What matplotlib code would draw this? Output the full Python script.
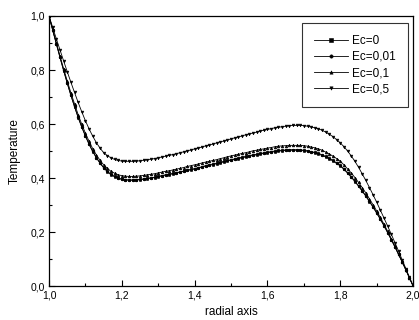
import matplotlib
matplotlib.use('Agg')
import matplotlib.pyplot as plt
import numpy as np
import matplotlib.ticker as ticker

plt.rcParams['font.family'] = ['Liberation Sans', 'DejaVu Sans']

# radial positions (step 0.01 from 1,0 to 2,0)
r = np.linspace(1.0, 2.0, 101)

labels = ['Ec=0', 'Ec=0,01', 'Ec=0,1', 'Ec=0,5']
markers = ['s', 'o', '^', 'v']

T_ec0 = [
    1.000, 0.948, 0.897, 0.847, 0.798, 0.751, 0.706, 0.664, 0.624, 0.588,
    0.555, 0.525, 0.498, 0.475, 0.455, 0.438, 0.424, 0.413, 0.405, 0.399,
    0.395, 0.393, 0.392, 0.392, 0.393, 0.394, 0.396, 0.398, 0.400, 0.402,
    0.405, 0.408, 0.411, 0.413, 0.416, 0.419, 0.422, 0.425, 0.428, 0.431,
    0.434, 0.437, 0.441, 0.444, 0.447, 0.450, 0.453, 0.456, 0.460, 0.463,
    0.466, 0.469, 0.472, 0.475, 0.478, 0.481, 0.484, 0.486, 0.489, 0.491,
    0.494, 0.496, 0.498, 0.500, 0.501, 0.502, 0.503, 0.503, 0.503, 0.502,
    0.501, 0.499, 0.496, 0.493, 0.489, 0.484, 0.478, 0.471, 0.463, 0.454,
    0.445, 0.432, 0.418, 0.403, 0.387, 0.370, 0.352, 0.333, 0.313, 0.292,
    0.270, 0.247, 0.223, 0.198, 0.172, 0.145, 0.117, 0.089, 0.060, 0.030,
    0.000]

T_ec001 = [
    1.000, 0.948, 0.897, 0.848, 0.799, 0.752, 0.707, 0.665, 0.625, 0.589,
    0.556, 0.526, 0.499, 0.476, 0.456, 0.439, 0.425, 0.414, 0.406, 0.400,
    0.396, 0.394, 0.393, 0.393, 0.394, 0.395, 0.397, 0.399, 0.401, 0.403,
    0.406, 0.409, 0.412, 0.414, 0.417, 0.420, 0.423, 0.426, 0.429, 0.432,
    0.435, 0.438, 0.442, 0.446, 0.449, 0.452, 0.455, 0.458, 0.462, 0.465,
    0.468, 0.471, 0.474, 0.477, 0.480, 0.483, 0.486, 0.488, 0.491, 0.493,
    0.496, 0.498, 0.500, 0.502, 0.503, 0.504, 0.505, 0.505, 0.505, 0.504,
    0.503, 0.501, 0.498, 0.495, 0.491, 0.486, 0.480, 0.473, 0.465, 0.456,
    0.447, 0.434, 0.420, 0.405, 0.389, 0.371, 0.353, 0.334, 0.314, 0.293,
    0.271, 0.248, 0.224, 0.198, 0.172, 0.145, 0.117, 0.089, 0.060, 0.030,
    0.000]

T_ec01 = [
    1.000, 0.950, 0.901, 0.853, 0.805, 0.760, 0.716, 0.675, 0.635, 0.599,
    0.566, 0.536, 0.509, 0.486, 0.466, 0.449, 0.436, 0.425, 0.418, 0.412,
    0.409, 0.407, 0.406, 0.406, 0.407, 0.408, 0.410, 0.412, 0.414, 0.416,
    0.419, 0.422, 0.425, 0.427, 0.430, 0.433, 0.436, 0.439, 0.443, 0.446,
    0.449, 0.452, 0.456, 0.459, 0.462, 0.465, 0.468, 0.472, 0.475, 0.479,
    0.482, 0.485, 0.488, 0.491, 0.494, 0.497, 0.501, 0.503, 0.506, 0.508,
    0.511, 0.513, 0.516, 0.518, 0.519, 0.520, 0.521, 0.521, 0.521, 0.521,
    0.520, 0.518, 0.515, 0.512, 0.508, 0.503, 0.496, 0.489, 0.481, 0.472,
    0.462, 0.449, 0.434, 0.419, 0.402, 0.384, 0.365, 0.345, 0.323, 0.301,
    0.278, 0.254, 0.229, 0.203, 0.176, 0.148, 0.119, 0.091, 0.061, 0.030,
    0.000]

T_ec05 = [
    1.000, 0.958, 0.916, 0.875, 0.834, 0.794, 0.755, 0.717, 0.680, 0.645,
    0.612, 0.582, 0.555, 0.531, 0.511, 0.494, 0.483, 0.475, 0.469, 0.465,
    0.463, 0.462, 0.462, 0.462, 0.463, 0.464, 0.466, 0.468, 0.470, 0.472,
    0.475, 0.478, 0.481, 0.484, 0.487, 0.490, 0.494, 0.497, 0.501, 0.504,
    0.508, 0.511, 0.515, 0.519, 0.522, 0.526, 0.530, 0.534, 0.537, 0.541,
    0.545, 0.549, 0.552, 0.556, 0.560, 0.563, 0.567, 0.570, 0.574, 0.577,
    0.580, 0.583, 0.586, 0.588, 0.590, 0.592, 0.594, 0.595, 0.595, 0.595,
    0.594, 0.592, 0.589, 0.586, 0.582, 0.577, 0.570, 0.562, 0.553, 0.542,
    0.530, 0.516, 0.500, 0.482, 0.462, 0.440, 0.416, 0.391, 0.365, 0.338,
    0.310, 0.281, 0.252, 0.222, 0.192, 0.161, 0.129, 0.097, 0.065, 0.032,
    0.000]

series = [T_ec0, T_ec001, T_ec01, T_ec05]

fig = plt.figure(figsize=(4.19, 3.20), dpi=100)
ax = fig.add_axes([0.117, 0.106, 0.869, 0.844])

for T, lab, m in zip(series, labels, markers):
    ax.plot(r, T, color='k', lw=0.6, marker=m, markersize=2.0,
            markeredgewidth=0.4, label=lab)

ax.set_xlim(1.0, 2.0)
ax.set_ylim(0.0, 1.0)

def comma_label(value, pos):
    return f'{value:.1f}'.replace('.', ',')

ax.xaxis.set_major_locator(ticker.MultipleLocator(0.2))
ax.xaxis.set_minor_locator(ticker.MultipleLocator(0.1))
ax.yaxis.set_major_locator(ticker.MultipleLocator(0.2))
ax.yaxis.set_minor_locator(ticker.MultipleLocator(0.1))
ax.xaxis.set_major_formatter(ticker.FuncFormatter(comma_label))
ax.yaxis.set_major_formatter(ticker.FuncFormatter(comma_label))
ax.tick_params(which='both', direction='in', top=False, right=False,
               labelsize=7.5, width=0.8)
ax.tick_params(which='major', length=4, pad=3)
ax.tick_params(which='minor', length=2.5)
for s in ax.spines.values():
    s.set_linewidth(0.9)

ax.set_xlabel('radial axis', fontsize=8.5, labelpad=4)
ax.set_ylabel('Temperature', fontsize=8.5, labelpad=7)

leg = ax.legend(loc='upper right', bbox_to_anchor=(0.986, 0.974),
                borderaxespad=0, fontsize=8.5, frameon=True, fancybox=False,
                edgecolor='k', handlelength=2.9, labelspacing=0.35,
                borderpad=1.0, handletextpad=0.35, markerscale=1.2)
leg.get_frame().set_linewidth(0.8)

fig.savefig('out.png', dpi=100)
